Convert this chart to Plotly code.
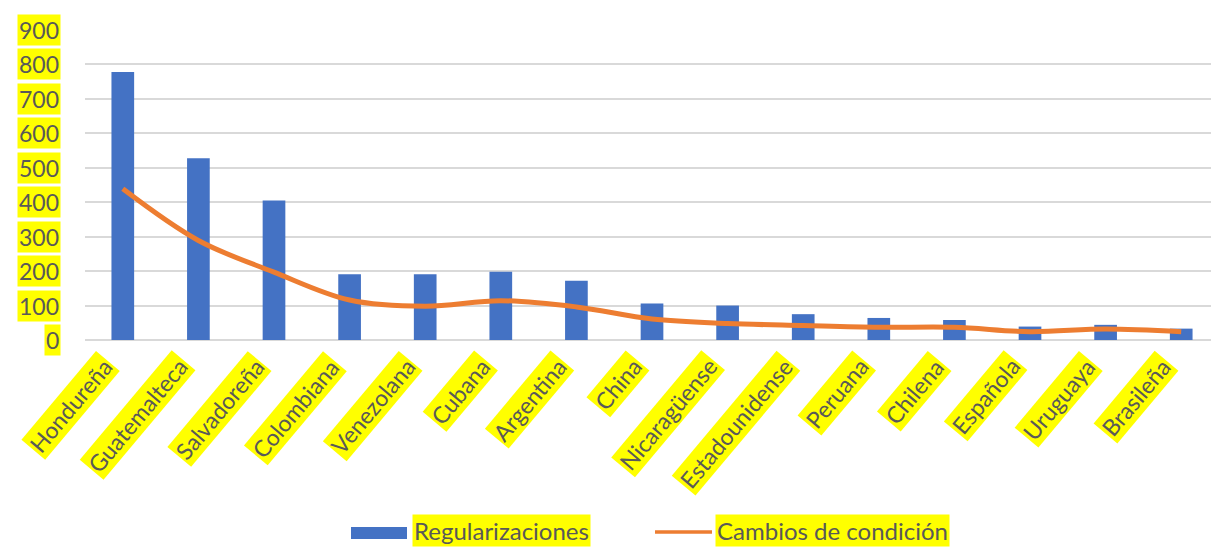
import plotly.graph_objects as go

categories = ["Hondureña", "Guatemalteca", "Salvadoreña", "Colombiana", "Venezolana",
              "Cubana", "Argentina", "China", "Nicaragüense", "Estadounidense",
              "Peruana", "Chilena", "Española", "Uruguaya", "Brasileña"]
regularizaciones = [778, 528, 405, 191, 191, 198, 172, 106, 100, 75, 64, 58, 39, 44, 33]
cambios = [439, 289, 197, 116, 98, 114, 96, 61, 48, 42, 37, 37, 24, 32, 24]
y_ticks = [0, 100, 200, 300, 400, 500, 600, 700, 800, 900]
series_names = ["Regularizaciones", "Cambios de condición"]

BLUE = "#4472C4"
ORANGE = "#ED7D31"
HL = "#FFFF00"
TXT = "#595959"
FONT = "Lato"

W, H = 1211, 547
ML, MR, MT, MB = 85, 0, 30, 207
PW = W - ML - MR
PH = H - MT - MB


def px_to_paper_x(px):
    return (px - ML) / PW


def px_to_paper_y(py):
    return (H - MB - py) / PH


fig = go.Figure()
fig.add_trace(go.Bar(x=categories, y=regularizaciones, name=series_names[0],
                     marker=dict(color=BLUE, line=dict(width=0)), showlegend=False))
fig.add_trace(go.Scatter(x=categories, y=cambios, name=series_names[1], mode="lines",
                         line=dict(color=ORANGE, width=5, shape="spline"),
                         showlegend=False))

annotations = []
# y tick labels with yellow highlight
for v in y_ticks:
    annotations.append(dict(x=0, xref="paper", y=v, yref="y", text=str(v),
                            showarrow=False, xanchor="right", yanchor="middle",
                            xshift=-24, bgcolor=HL, borderpad=1,
                            font=dict(family=FONT, size=23, color=TXT)))
# x tick labels rotated with yellow highlight
for c in categories:
    annotations.append(dict(x=c, xref="x", y=0, yref="y", text=c, showarrow=False,
                            xanchor="right", yanchor="top", textangle=-50,
                            yshift=-10, xshift=-2, bgcolor=HL, borderpad=1,
                            font=dict(family=FONT, size=23, color=TXT)))
# custom legend texts
annotations.append(dict(x=px_to_paper_x(412), xref="paper", y=px_to_paper_y(530), yref="paper",
                        text=series_names[0], showarrow=False, xanchor="left", yanchor="middle",
                        bgcolor=HL, borderpad=1, font=dict(family=FONT, size=24, color=TXT)))
annotations.append(dict(x=px_to_paper_x(715), xref="paper", y=px_to_paper_y(530), yref="paper",
                        text=series_names[1], showarrow=False, xanchor="left", yanchor="middle",
                        bgcolor=HL, borderpad=1, font=dict(family=FONT, size=24, color=TXT)))

shapes = [
    dict(type="rect", xref="paper", yref="paper",
         x0=px_to_paper_x(351), x1=px_to_paper_x(407),
         y0=px_to_paper_y(539), y1=px_to_paper_y(527),
         fillcolor=BLUE, line=dict(width=0)),
    dict(type="line", xref="paper", yref="paper",
         x0=px_to_paper_x(655), x1=px_to_paper_x(712),
         y0=px_to_paper_y(532), y1=px_to_paper_y(532),
         line=dict(color=ORANGE, width=3.5)),
]

fig.update_layout(
    width=W, height=H, autosize=False,
    margin=dict(l=ML, r=MR, t=MT, b=MB, pad=0),
    paper_bgcolor="white", plot_bgcolor="white",
    bargap=0.7,
    showlegend=False,
    annotations=annotations,
    shapes=shapes,
    font=dict(family=FONT, size=23, color=TXT),
)
fig.update_xaxes(type="category", range=[-0.5, 14.394], showticklabels=False,
                 showgrid=False, showline=False, zeroline=False, ticks="")
fig.update_yaxes(range=[0, 900], tickvals=y_ticks, showticklabels=False,
                 showgrid=True, gridcolor="#D9D9D9", gridwidth=1.5,
                 zeroline=True, zerolinecolor="#D9D9D9", zerolinewidth=1.5,
                 showline=False, ticks="")

fig.write_html("out.html")
